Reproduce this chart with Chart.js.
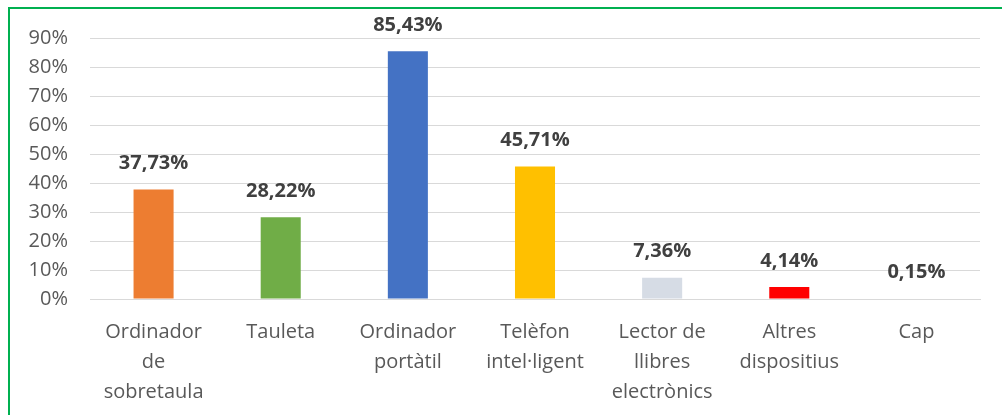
<!DOCTYPE html>
<html>
<head>
<meta charset="utf-8">
<script src="https://cdn.jsdelivr.net/npm/chart.js@4"></script>
<style>
    html, body { margin: 0; padding: 0; background: #fff; }
    #wrap { position: relative; width: 1002px; height: 415px; overflow: hidden; }
    #frame {
        position: absolute; left: 8px; top: 7px; width: 1100px; height: 500px;
        border-left: 2px solid #00b050; border-top: 2px solid #00b050;
    }
    canvas { position: absolute; left: 0; top: 0; }
</style>
</head>
<body>
<div id="wrap">
    <div id="frame"></div>
    <canvas id="myChart" width="1002" height="415"></canvas>
</div>
<script>
const labels = [
    ["Ordinador", "de", "sobretaula"],
    "Tauleta",
    ["Ordinador", "portàtil"],
    ["Telèfon", "intel·ligent"],
    ["Lector de", "llibres", "electrònics"],
    ["Altres", "dispositius"],
    "Cap",
];
const values = [37.73, 28.22, 85.43, 45.71, 7.36, 4.14, 0.15];
const valueLabels = ["37,73%", "28,22%", "85,43%", "45,71%", "7,36%", "4,14%", "0,15%"];
const colors = ["#ed7d31", "#70ad47", "#4472c4", "#ffc000", "#d6dce5", "#ff0000", "#a5a5a5"];

const valuePlugin = {
    id: "valueLabels",
    afterDatasetsDraw(chart) {
        const ctx = chart.ctx;
        const meta = chart.getDatasetMeta(0);
        ctx.save();
        ctx.font = "bold 20px 'Open Sans'";
        ctx.fillStyle = "#404040";
        ctx.textAlign = "center";
        ctx.textBaseline = "middle";
        meta.data.forEach((bar, i) => {
            ctx.fillText(valueLabels[i], bar.x, bar.y - 26);
        });
        ctx.restore();
    },
};

const config = {
    type: "bar",
    data: {
        labels: labels,
        datasets: [
            {
                data: values,
                backgroundColor: colors,
                categoryPercentage: 1,
                barPercentage: 0.315,
            },
        ],
    },
    options: {
        responsive: false,
        animation: false,
        layout: { padding: { left: 8, right: 22, top: 38, bottom: 0 } },
        plugins: { legend: { display: false }, tooltip: { enabled: false } },
        scales: {
            x: {
                grid: { display: false },
                border: { color: "#d9d9d9" },
                ticks: {
                    color: "#595959",
                    font: { family: "'Open Sans'", size: 20, lineHeight: 1.5 },
                    padding: 10,
                    maxRotation: 0,
                    autoSkip: false,
                },
                afterFit(scale) { scale.height = 116; },
            },
            y: {
                min: 0,
                max: 90,
                ticks: {
                    stepSize: 10,
                    color: "#595959",
                    font: { family: "'Open Sans'", size: 20 },
                    padding: 22,
                    callback: (v) => v + "%",
                },
                grid: { color: "#d9d9d9", drawTicks: false },
                border: { display: false },
                afterFit(scale) { scale.width = 82; },
            },
        },
    },
    plugins: [valuePlugin],
};

new Chart(document.getElementById("myChart"), config);
</script>
</body>
</html>
